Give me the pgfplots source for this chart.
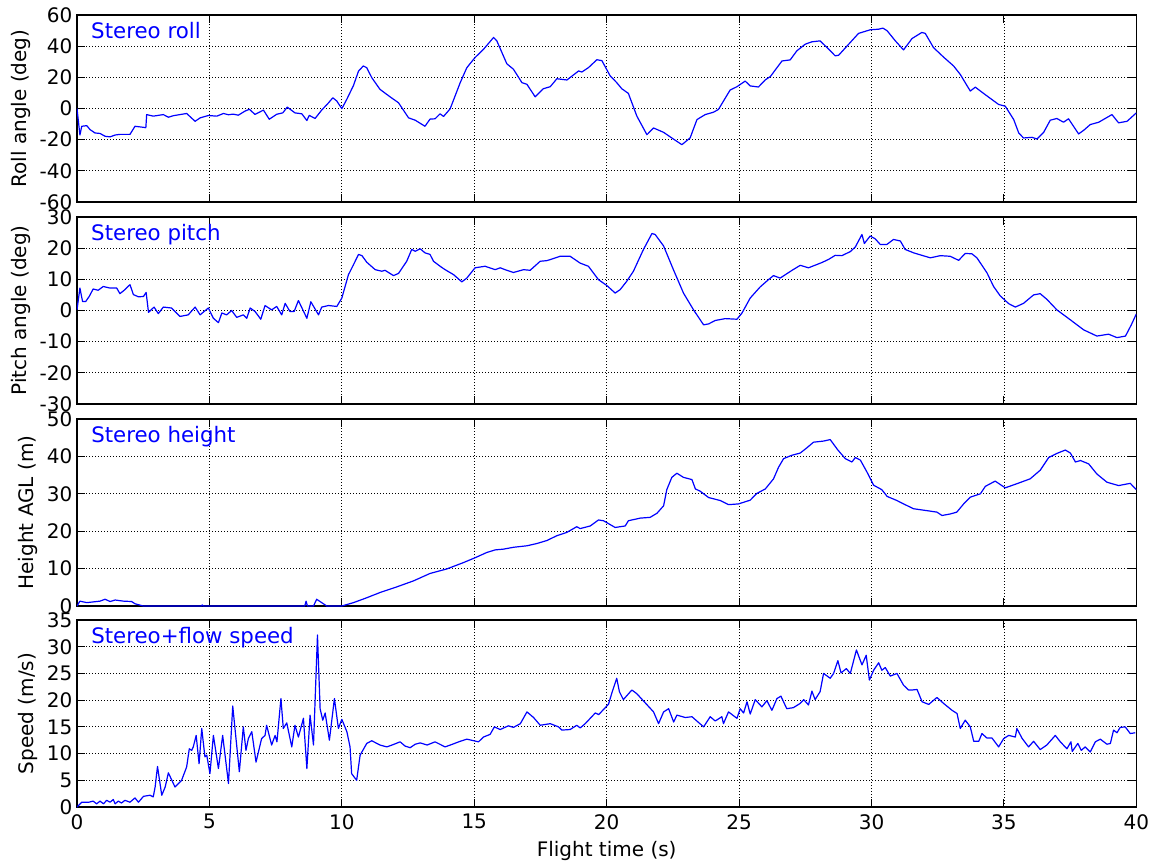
\documentclass[border=0pt]{standalone}
\usepackage{fontspec}
\setmainfont{DejaVu Sans}
\usepackage{pgfplots}
\pgfplotsset{compat=1.18}

\pgfplotstableread{
t v
0 0
0.11 -17
0.18 -11.4
0.37 -11
0.49 -13.5
0.68 -15.7
0.87 -16
1.06 -17.8
1.25 -18.2
1.44 -17
1.62 -16.6
2.0 -16.6
2.19 -11.4
2.57 -12.2
2.6 -12.3
2.63 -3.9
2.88 -4.9
3.26 -3.9
3.45 -5.6
3.64 -4.6
4.14 -3.2
4.46 -8.2
4.65 -6.0
4.96 -4.5
5.28 -4.9
5.53 -3.2
5.72 -4.0
5.9 -3.6
6.09 -4.3
6.35 -1.6
6.51 -0.5
6.72 -3.8
7.04 -1.0
7.26 -6.9
7.54 -3.7
7.77 -2.8
7.94 0.9
8.23 -2.8
8.49 -3.4
8.68 -7.7
8.77 -4.4
8.99 -6.4
9.24 -1.0
9.49 3.5
9.66 6.9
9.81 4.8
10.0 -0.1
10.19 6
10.44 14.8
10.63 24
10.81 27.3
10.94 26.2
11.13 19.8
11.44 12.3
11.82 7.5
12.14 3.7
12.52 -6
12.77 -7.5
13.14 -11.4
13.33 -6.8
13.52 -6.6
13.71 -3.4
13.84 -5.1
14.09 -0.2
14.47 16.6
14.72 26.2
15.03 32.7
15.35 38
15.73 45.6
15.85 43.5
16.23 28.7
16.48 25.2
16.8 16.6
16.99 15.5
17.3 7.5
17.61 12.7
17.87 14.0
18.12 19.1
18.5 18.3
18.94 24.1
19.06 23.4
19.31 26.2
19.63 31.3
19.82 30.7
20.13 21
20.38 16.6
20.57 12.7
20.82 9.7
21.14 -4.9
21.52 -16.8
21.77 -12.5
22.15 -15.3
22.46 -18.9
22.84 -23.2
23.15 -18.9
23.41 -7.1
23.72 -3.9
24.03 -2.4
24.22 -0.6
24.66 11.8
24.92 14
25.23 17.6
25.42 14.5
25.73 13.8
25.99 18.4
26.18 20.5
26.62 30.5
26.93 31.2
27.18 37
27.5 41.3
27.75 42.8
28.06 43.4
28.32 39.1
28.63 33.8
28.76 34.2
29.2 42.4
29.51 48.2
29.95 50.5
30.27 50.9
30.43 51.6
30.59 49.9
30.9 43.4
31.21 37.6
31.53 44.9
31.9 48.8
32.03 48.2
32.34 39.1
32.72 33
33.1 27.3
33.35 21.9
33.73 11.2
33.92 13.7
34.23 9.7
34.8 2.6
35.05 1.5
35.37 -7.1
35.56 -15.7
35.74 -18.9
36.06 -18.5
36.25 -19.6
36.5 -15.3
36.75 -7.5
37.0 -6.4
37.25 -8.8
37.44 -6.6
37.82 -16.3
38.01 -14
38.26 -10.3
38.58 -8.8
39.08 -3.9
39.33 -9.2
39.65 -8.2
40.0 -2.8
}\rolldata

\pgfplotstableread{
t v
0 0.2
0.11 7.2
0.21 2.9
0.33 2.9
0.46 4.5
0.61 6.9
0.8 6.5
0.99 7.7
1.25 7.2
1.5 7.2
1.62 5.4
1.81 6.7
2.0 8.3
2.13 5.1
2.32 4.4
2.51 4.5
2.61 5.8
2.7 -0.6
2.91 1.1
3.07 -1
3.26 1.1
3.57 0.8
3.89 -1.9
4.2 -1.4
4.46 1.1
4.65 -1.4
4.8 -0.3
4.96 0.8
5.15 -2.5
5.34 -3.9
5.47 -0.8
5.65 -1.4
5.84 0
6.03 -2.2
6.28 -1.4
6.41 -2.5
6.54 0.8
6.72 -0.3
6.94 -2.8
7.1 1.6
7.35 0.2
7.54 1.3
7.73 -1.4
7.86 2.3
8.04 -0.3
8.2 -0.3
8.36 3.2
8.68 -2.5
8.83 2.8
9.12 -1.4
9.24 1.1
9.5 1.6
9.81 1.3
10.0 4
10.25 11.5
10.44 14.7
10.63 18
10.76 17.6
10.94 15.5
11.26 13.1
11.51 12.6
11.63 12.9
11.95 11.2
12.14 11.9
12.45 15.8
12.64 19.6
12.77 19
12.96 19.8
13.14 18.5
13.33 18
13.46 15.8
13.71 14.2
13.9 13.1
14.22 11.5
14.53 9.2
14.72 10.4
15.03 13.7
15.41 14.2
15.79 13.1
15.98 13.7
16.23 12.9
16.48 12.2
16.86 13.1
17.11 12.9
17.49 15.8
17.74 16
17.93 16.5
18.24 17.4
18.62 17.4
18.81 16.3
19.0 15.2
19.31 14.2
19.69 9.9
20.01 8
20.32 5.6
20.51 6.7
20.76 9.4
21.01 12.6
21.39 19.6
21.71 24.7
21.83 24.4
22.15 20.7
22.52 13.1
22.9 5.6
23.28 0.2
23.66 -4.6
23.85 -4.3
24.1 -3.2
24.48 -2.6
24.92 -2.8
25.11 -0.8
25.42 4
25.8 7.6
26.11 9.9
26.3 11.2
26.55 10.4
27.0 12.9
27.31 14.5
27.62 13.7
28.13 15.4
28.38 16.4
28.63 17.7
28.88 17.6
29.2 18.9
29.39 20.4
29.64 24.4
29.73 21.5
29.95 23.9
30.14 23
30.33 21.2
30.58 21.2
30.83 22.8
31.09 22.3
31.27 19.6
31.59 18.5
32.22 16.9
32.6 17.6
32.97 17.4
33.29 16.1
33.54 18.3
33.79 18.2
33.98 16.9
34.36 12.1
34.61 7.7
34.86 4.7
35.18 2.2
35.43 1.1
35.74 2.3
36.12 5
36.37 5.4
36.62 3.6
37.0 0.2
37.51 -3
38.01 -6.2
38.51 -8.2
38.95 -7.6
39.27 -8.7
39.59 -8.2
39.81 -4.6
40.0 -1.1
}\pitchdata

\pgfplotstableread{
t v
0 0
0.11 1.3
0.37 0.9
0.87 1.3
1.06 1.8
1.25 1.2
1.44 1.6
1.75 1.3
2.06 1.2
2.19 0.6
2.5 0
4.7 0
4.73 0.3
4.76 0
8.6 0
8.65 1.3
8.7 0
8.93 0
9.05 1.8
9.24 0.9
9.43 0
10.0 0
10.44 0.9
10.94 2.2
11.44 3.6
12.07 5.1
12.7 6.7
13.33 8.7
13.96 9.9
14.59 11.6
15.03 12.9
15.47 14.3
15.79 15
16.1 15.2
16.48 15.7
16.99 16.1
17.36 16.7
17.74 17.5
18.12 18.8
18.5 19.7
18.87 21.2
19.0 20.7
19.38 21.4
19.69 23
19.88 22.8
20.32 21
20.7 21.4
20.82 22.8
21.27 23.5
21.64 23.7
21.9 24.8
22.15 26.8
22.27 31.1
22.46 34.4
22.65 35.5
22.9 34.4
23.22 33.8
23.35 31.3
23.53 30.7
23.85 29
24.29 28.2
24.6 27.1
24.98 27.3
25.42 28.3
25.67 30.1
25.99 31.3
26.3 34
26.49 37.1
26.68 39.4
26.99 40.3
27.31 40.9
27.56 42.3
27.81 43.8
28.19 44.1
28.44 44.5
28.72 41.8
29.01 39.4
29.26 38.5
29.39 39.7
29.58 39
29.83 35.8
30.08 32.3
30.39 31.1
30.59 29.3
30.96 28.2
31.21 27.3
31.59 26
32.09 25.5
32.47 25.1
32.66 24.2
32.97 24.6
33.22 25.1
33.48 27.3
33.73 29.1
34.11 30
34.3 32
34.67 33.4
34.92 32.2
35.05 31.6
35.49 32.7
35.99 34
36.37 36.3
36.69 39.7
37.0 40.8
37.32 41.7
37.51 40.9
37.7 38.5
37.89 38.9
38.2 38
38.51 35.3
38.89 33.1
39.33 32.2
39.77 32.8
40.0 31.1
}\heightdata

\pgfplotstableread{
t v
0 0
0.18 0.9
0.45 0.9
0.61 1.1
0.74 0.6
0.87 1.1
1.0 0.6
1.12 1.25
1.25 0.9
1.37 1.4
1.44 0.6
1.56 1.1
1.68 0.75
1.81 1.25
2.0 0.9
2.19 1.7
2.32 0.9
2.51 2
2.76 2.2
2.88 1.9
2.95 3.75
3.04 7.6
3.2 2.2
3.33 3.75
3.45 6.4
3.7 3.75
3.95 5
4.14 7.5
4.24 10.9
4.33 10.6
4.39 11.25
4.5 13.4
4.61 8.1
4.71 14.7
4.83 9.4
4.9 9.7
5.02 6.25
5.15 13.4
5.34 7.2
5.5 13.4
5.72 4.4
5.88 18.9
6.13 6.6
6.28 15
6.38 10.6
6.47 12.8
6.6 14.1
6.76 8.4
6.97 12.8
7.1 13.4
7.16 15.3
7.35 11.6
7.48 13.4
7.55 12.2
7.7 20.3
7.79 14.7
7.92 15.75
8.11 11.25
8.23 15.3
8.36 13.1
8.55 16.6
8.68 7.2
8.8 17.2
8.93 11.6
9.08 32.2
9.18 18.4
9.28 16.25
9.37 17.6
9.53 12.5
9.72 20.3
9.87 14.7
10.0 16.4
10.19 14.1
10.31 11.25
10.37 6.25
10.56 5
10.69 9.7
10.94 11.9
11.13 12.4
11.44 11.6
11.7 11.25
11.95 11.7
12.2 12.2
12.39 11.4
12.58 11.1
12.77 11.75
12.96 12
13.22 11.6
13.52 12.2
13.9 11.25
14.15 11.7
14.47 12.3
14.72 12.7
15.16 12.2
15.35 13.1
15.6 13.6
15.76 15
15.98 14.5
16.29 15.2
16.48 14.9
16.74 15.6
16.99 17.8
17.24 16.75
17.49 15.3
17.87 15.6
18.18 15
18.31 14.4
18.62 14.5
18.87 15.3
19.0 14.8
19.19 15.6
19.57 17.6
19.7 17.3
20.07 19.25
20.2 21.4
20.38 24.1
20.48 21.6
20.63 20.1
20.95 21.9
21.14 21.2
21.77 17.8
21.96 15.6
22.15 17.8
22.34 18.4
22.53 15.9
22.65 17.2
22.97 16.75
23.22 16.9
23.66 15
23.91 16.9
24.1 16.1
24.35 16.9
24.41 15.6
24.6 17.8
24.92 16.6
25.04 18.4
25.17 17.6
25.3 19.7
25.42 17.4
25.61 20.1
25.86 18.75
26.05 19.9
26.24 18.1
26.43 20.3
26.58 20.75
26.8 18.4
27.05 18.6
27.31 19.4
27.44 20.1
27.62 19.1
27.75 21.7
27.87 20.1
28.06 21.6
28.19 25
28.44 24.1
28.57 25
28.73 27.4
28.85 25.1
29.05 25.9
29.2 25
29.43 29.4
29.64 26.6
29.8 28.4
29.92 23.75
30.08 25.6
30.27 27
30.39 25.6
30.52 26.1
30.71 24.5
30.96 25
31.21 22.8
31.4 21.9
31.53 21.9
31.72 22
31.91 19.7
32.16 19.2
32.47 20.5
32.72 19.4
33.04 18.1
33.23 17.5
33.35 14.7
33.54 16.25
33.73 15
33.86 12.3
34.05 12.3
34.17 13.75
34.36 12.9
34.55 12.9
34.8 11.25
34.99 12.8
35.18 13.4
35.43 13.1
35.49 14.7
35.68 12.9
35.93 11.25
36.12 12.3
36.37 10.75
36.62 11.6
36.94 13.4
37.13 12.2
37.38 10.9
37.53 12.2
37.58 10.4
37.79 11.9
37.92 10.6
38.07 11.25
38.26 10.3
38.45 12.2
38.64 12.7
38.89 11.75
39.02 11.9
39.14 14.4
39.27 13.9
39.39 14.9
39.58 15
39.77 13.75
39.96 13.9
}\speeddata

\pgfplotsset{
  panel/.style={
    scale only axis, width=794.5pt, height=140.25pt,
    anchor=north west,
    xmin=0, xmax=40,
    xtick={0,5,...,40},
    tick align=inside,
    xtick pos=both, ytick pos=both,
    major tick length=6pt,
    xmajorgrids, ymajorgrids,
    grid style={black, line width=0.6pt, dash pattern=on 0.75pt off 1.5pt},
    axis line style={black, line width=1pt},
    every tick/.style={black, line width=0.8pt},
    tick label style={font=\fontsize{15}{17}\selectfont},
    label style={font=\fontsize{15}{17}\selectfont},
    xticklabel style={yshift=-2pt},
    xlabel style={yshift=-2pt},
    /pgf/number format/assume math mode=true,
    scaled ticks=false,
  },
  curve/.style={blue, line width=0.9pt, line join=round},
}
\tikzset{tag/.style={anchor=base west, text=blue, font=\fontsize{16}{18}\selectfont, inner sep=0pt}}

\begin{document}
\begin{tikzpicture}
\path[use as bounding box] (0,0) rectangle (864pt,-648pt);

\begin{axis}[panel, at={(57.75pt,-11.25pt)}, ymin=-60, ymax=60, ytick={-60,-40,...,60},
  xticklabels={}, ylabel={Roll angle (deg)}]
\addplot[curve] table[x=t,y=v] {\rolldata};
\node[tag] at (rel axis cs:0.0132,0.872) {Stereo roll};
\end{axis}

\begin{axis}[panel, at={(57.75pt,-162.75pt)}, ymin=-30, ymax=30, ytick={-30,-20,...,30},
  xticklabels={}, ylabel={Pitch angle (deg)}]
\addplot[curve] table[x=t,y=v] {\pitchdata};
\node[tag] at (rel axis cs:0.0132,0.872) {Stereo pitch};
\end{axis}

\begin{axis}[panel, at={(57.75pt,-314.25pt)}, ymin=0, ymax=50, ytick={0,10,...,50},
  xticklabels={}, ylabel={Height AGL (m)}]
\addplot[curve] table[x=t,y=v] {\heightdata};
\node[tag] at (rel axis cs:0.0132,0.872) {Stereo height};
\end{axis}

\begin{axis}[panel, at={(57.75pt,-465pt)}, ymin=0, ymax=35, ytick={0,5,...,35},
  ylabel={Speed (m/s)}, xlabel={Flight time (s)}]
\addplot[curve] table[x=t,y=v] {\speeddata};
\node[tag] at (rel axis cs:0.0132,0.872) {Stereo+flow speed};
\end{axis}
\end{tikzpicture}
\end{document}
